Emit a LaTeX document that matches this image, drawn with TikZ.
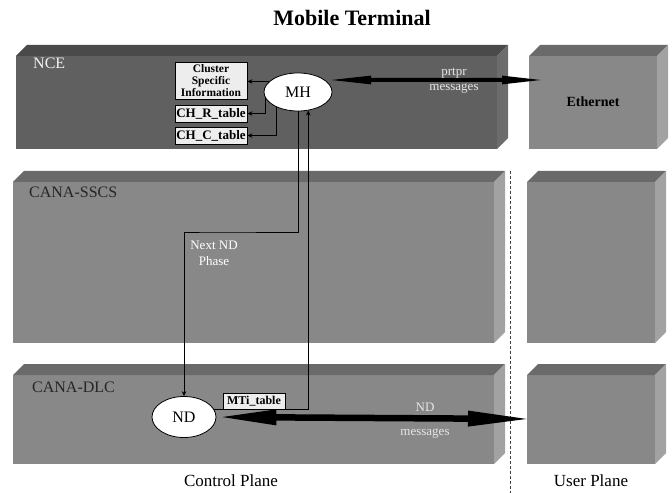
\documentclass[tikz,border=0pt]{standalone}
\usepackage{fontspec}
\setmainfont{Liberation Serif}
\usepackage{xcolor}
\usepackage{tikz}
\usetikzlibrary{calc}
\usetikzlibrary{shapes.geometric}
\usetikzlibrary{arrows, arrows.meta}

\definecolor{ncefront}{HTML}{606060}
\definecolor{ncetop}{HTML}{4A4A4A}
\definecolor{nceside}{HTML}{6C6C6C}
\definecolor{slabfront}{HTML}{888888}
\definecolor{slabtop}{HTML}{6A6A6A}
\definecolor{slabside}{HTML}{A2A2A2}

% front face, top face, side face of one layer block
\newcommand{\slab}[7]{%
	\fill[#5] (#1,#2) rectangle (#3,#4);
	\fill[#6] (#1,#2) -- (#1+11,#2-11) -- (#3+11,#2-11) -- (#3,#2) -- cycle;
	\fill[#7] (#3,#2) -- (#3+11,#2-11) -- (#3+11,#4-11) -- (#3,#4) -- cycle;
}

\begin{document}
\begin{tikzpicture}[x=1bp, y=-1bp,
	tbl/.style={draw=black, line width=0.8pt, fill=black!7, inner sep=0pt,
		font=\fontsize{13bp}{14bp}\selectfont\bfseries},
	ent/.style={ellipse, draw=black, line width=0.8pt, fill=white, inner sep=0pt,
		font=\fontsize{16bp}{18bp}\selectfont},
	lbl/.style={inner sep=0pt, anchor=base west, font=\fontsize{16bp}{18bp}\selectfont},
	msg/.style={align=center, inner sep=0pt, text=black!10,
		font=\fontsize{13bp}{15bp}\selectfont},
	arr/.style={line width=0.8pt, black, -{Stealth[length=5bp, width=4.5bp]}}]

\useasboundingbox (0,0) rectangle (672,493);

\slab{16}{56}{497}{149}{ncefront}{ncetop}{nceside}
\slab{529}{56}{657}{149}{slabfront}{slabtop}{slabside}
\slab{13}{182}{494}{343}{slabfront}{slabtop}{slabside}
\slab{527}{182}{655}{343}{slabfront}{slabtop}{slabside}
\slab{13}{375}{494}{464}{slabfront}{slabtop}{slabside}
\slab{527}{375}{655}{464}{slabfront}{slabtop}{slabside}

\draw [line width=0.6pt, black!75, dash pattern=on 3bp off 2bp] (510,171) -- (510,493);

\node[font=\fontsize{22bp}{24bp}\selectfont\bfseries] (title) at (352,18) {Mobile Terminal};

\node[lbl, text=black!5] (nce) at (33,69) {NCE};
\node[lbl, text=black!85] (sscs) at (29,198) {CANA-SSCS};
\node[lbl, text=black!85] (dlc) at (32,392) {CANA-DLC};

\node[ent, minimum width=68bp, minimum height=38bp] (mh) at (298,92) {MH};
\node[ent, minimum width=64bp, minimum height=41bp] (nd) at (184,417) {ND};

\node[tbl, minimum width=72bp, minimum height=37bp, align=center,
	font=\fontsize{11.5bp}{12bp}\selectfont\bfseries] (csi) at (211,80.5)
	{Cluster\\Specific\\Information};
\node[tbl, minimum width=72bp, minimum height=17bp] (chr) at (211,113.5) {CH\_R\_table};
\node[tbl, minimum width=72bp, minimum height=17bp] (chc) at (211,135.5) {CH\_C\_table};

\node[font=\fontsize{14bp}{16bp}\selectfont\bfseries] (eth) at (593,102) {Ethernet};

\coordinate (ethtip) at (547,80);
\coordinate (uptip) at (533,419);
\coordinate (phase) at (214,232);

\draw [arr] (mh.160) -- (mh.160 -| csi.east);
\draw [arr] (mh.190) |- (chr.east);
\draw [arr] (mh.215) |- (chc.east);

\draw [arr] (mh.south) |- (phase) -| (nd.north);
\draw [arr] (nd.15) -| (mh.-61);

\node[tbl, minimum width=62bp, minimum height=16bp,
	font=\fontsize{12bp}{13bp}\selectfont\bfseries] (mti) at (254,401) {MTi\_table};

\draw [line width=4bp, black,
	{Triangle[length=46bp, width=7.5bp]}-{Triangle[length=45bp, width=7.5bp]}]
	(mh.24) -- (ethtip);
\draw [line width=6.5bp, black,
	{Triangle[length=60bp, width=14bp]}-{Triangle[length=65bp, width=14bp]}]
	(nd.east) -- (uptip);

\node[msg] (prtpr) at (454,81) {prtpr\\messages};
\node[msg, font=\fontsize{13bp}{24bp}\selectfont] (ndmsg) at (425,421) {ND\\messages};
\node[msg, text=white, font=\fontsize{13bp}{16bp}\selectfont] (next) at (214,253) {Next ND\\Phase};

\node[font=\fontsize{17bp}{19bp}\selectfont] (cp) at (231,481) {Control Plane};
\node[font=\fontsize{17bp}{19bp}\selectfont] (up) at (591,481) {User Plane};

\end{tikzpicture}
\end{document}
